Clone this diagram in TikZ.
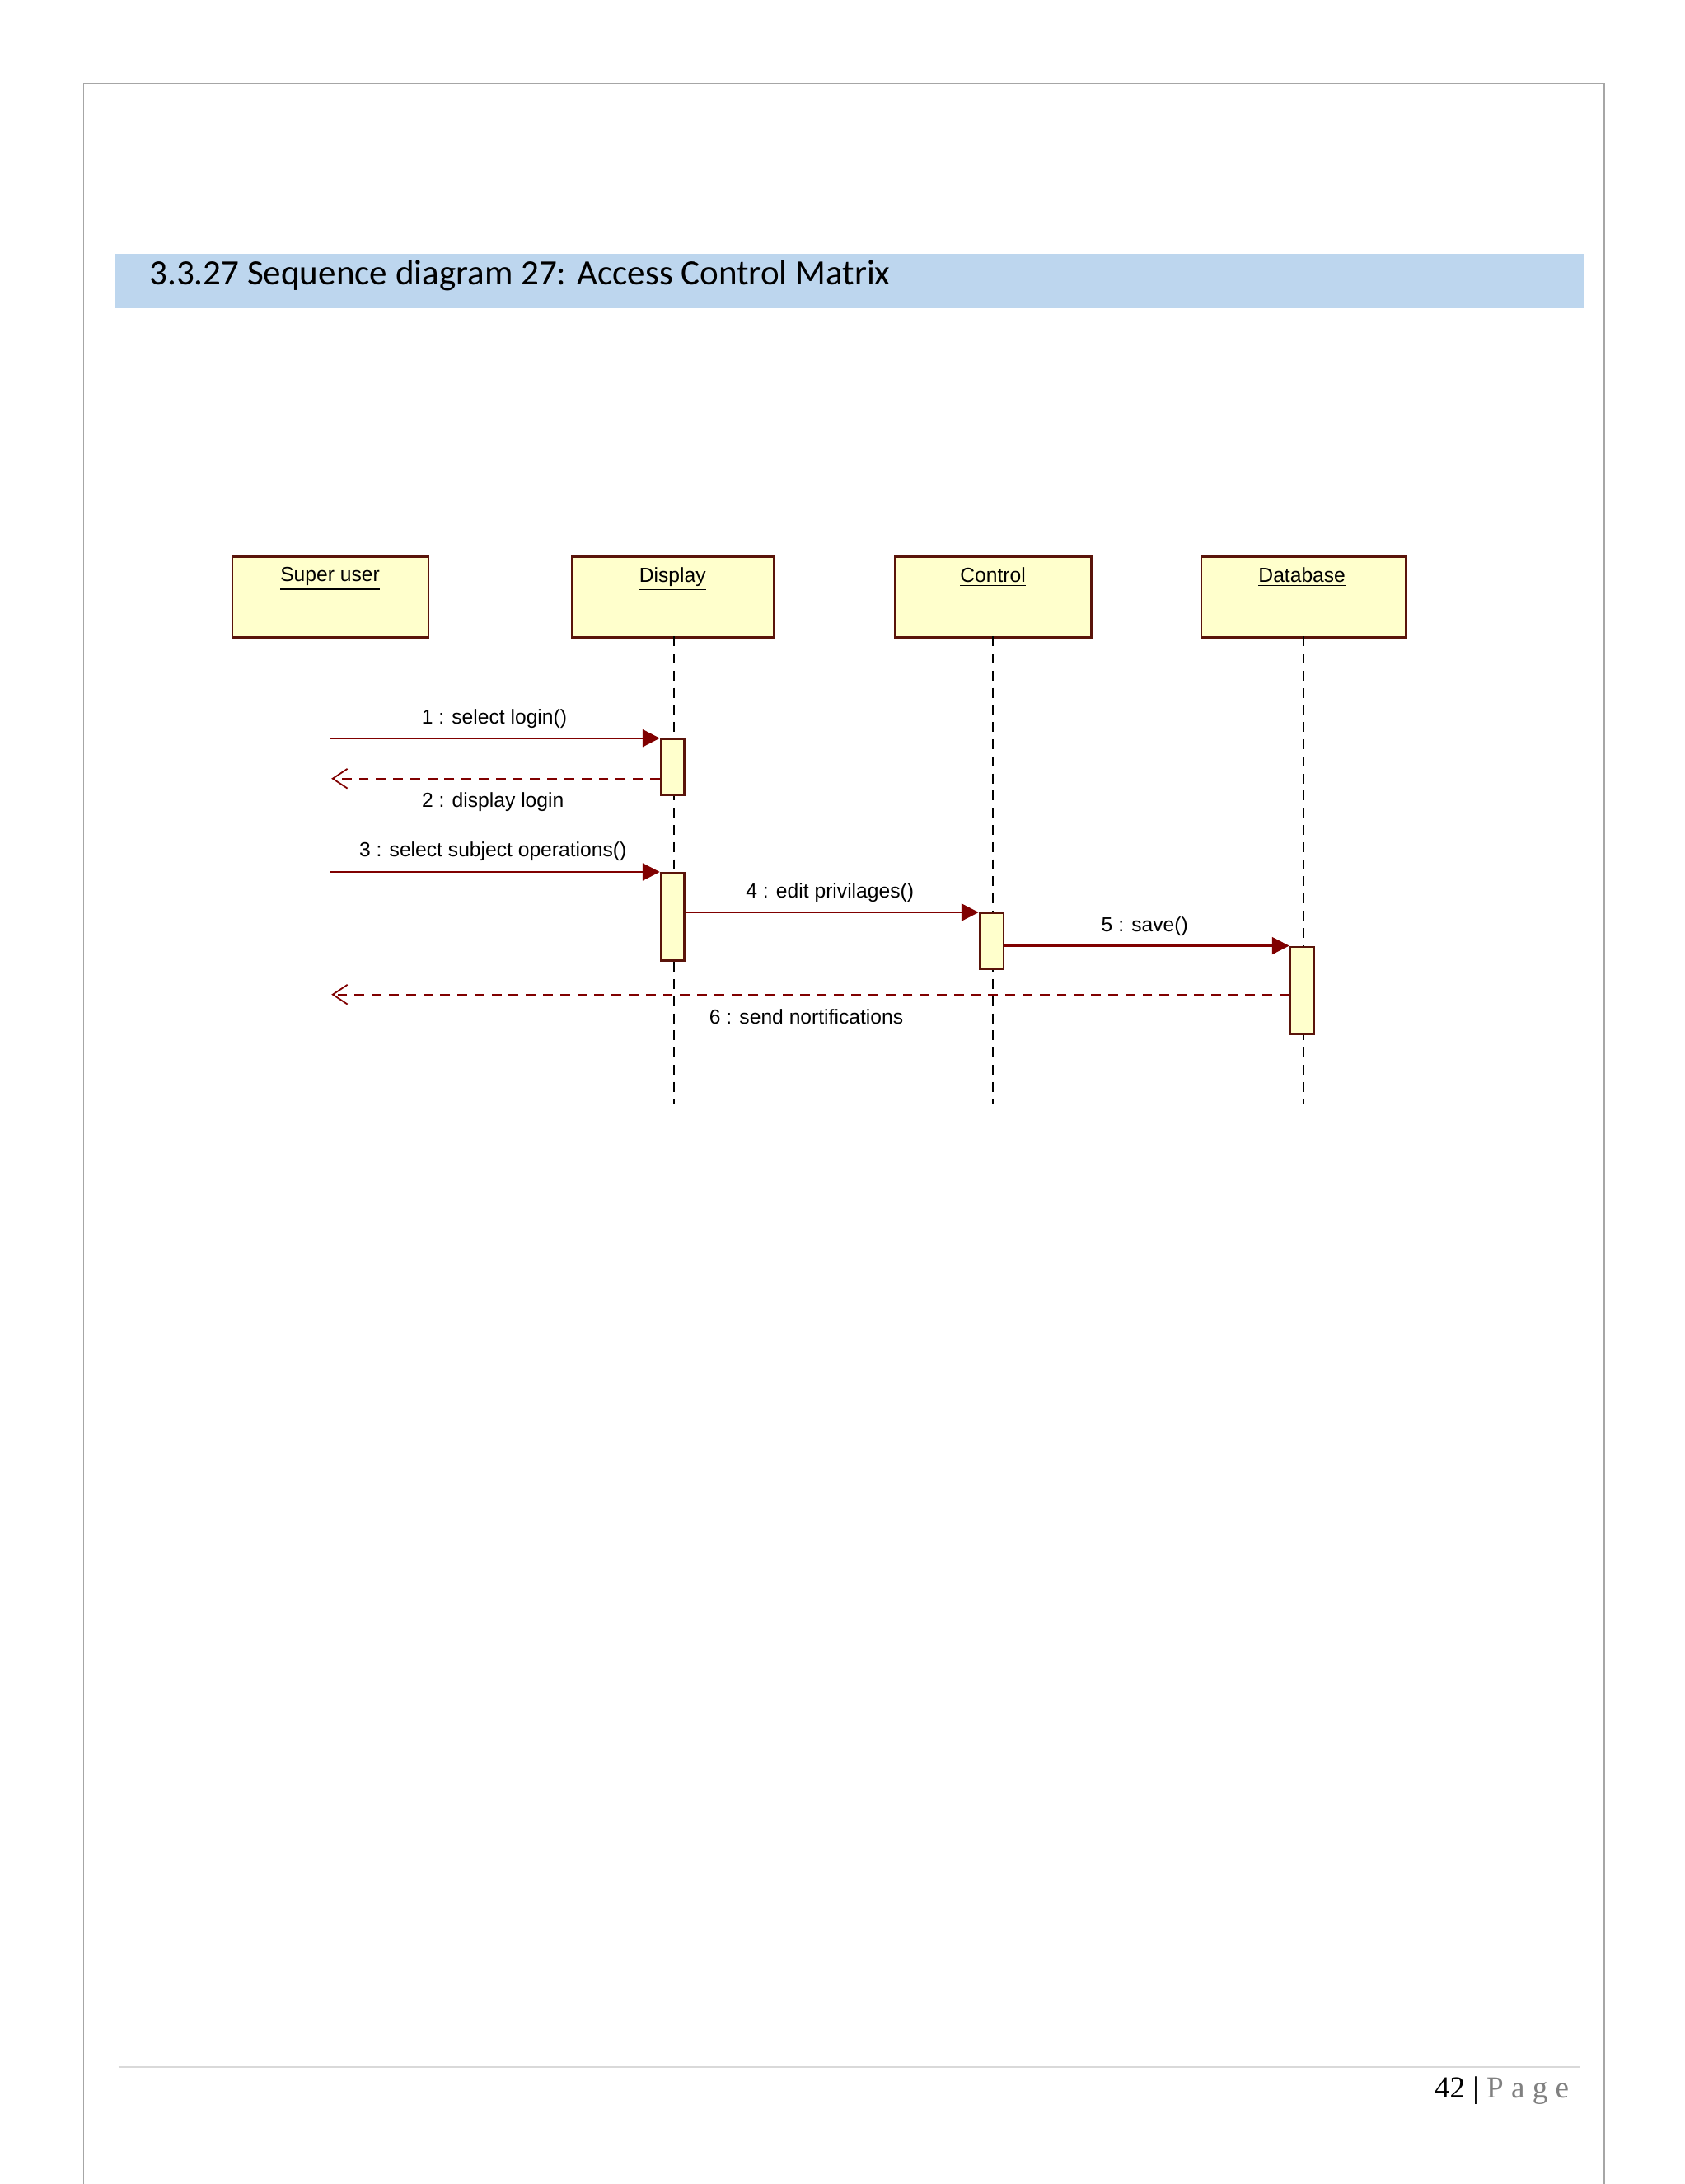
\documentclass[tikz,border=0pt]{standalone}
\usepackage{fontspec}
\setmainfont{Liberation Sans}
\newfontfamily\titlefont{Carlito}
\newfontfamily\footfont{Liberation Serif}
\usetikzlibrary{arrows.meta,positioning}
\definecolor{boxfill}{RGB}{255,255,204}
\definecolor{boxline}{RGB}{90,20,10}
\definecolor{msgline}{RGB}{128,0,0}
\definecolor{band}{RGB}{189,214,238}
\tikzset{
  obj/.style={draw=boxline, fill=boxfill, line width=0.8pt, minimum width=#1, minimum height=1.16cm, anchor=north west, inner sep=0pt},
  act/.style={draw=boxline, fill=boxfill, line width=0.8pt, minimum width=0.34cm, anchor=north, inner sep=0pt},
  lifeline/.style={dashed, line width=0.6pt, dash pattern=on 4pt off 3pt},
  call/.style={draw=msgline, line width=0.8pt, -{Triangle[length=7pt,width=7pt]}},
  reply/.style={draw=msgline, line width=0.6pt, dash pattern=on 4pt off 3pt, -{Straight Barb[open,length=6pt,width=8pt]}},
  lbl/.style={font=\fontsize{8.3}{10}\selectfont, inner sep=0pt},
  head/.style={font=\fontsize{8.3}{10}\selectfont, anchor=north, inner sep=0pt}
}
\begin{document}
\begin{tikzpicture}[x=0.02cm, y=-0.02cm]
      \useasboundingbox (0,0) rectangle (1210,1568);
      \draw[gray!70, line width=0.6pt] (60,1568) -- (60,60) -- (1152,60) -- (1152,1568); % page
      %
      \fill[band] (83,182) rectangle (1138,221);
      \node[anchor=west, inner sep=0pt, font=\titlefont\fontsize{14.5}{16}\selectfont] (title) at (107,198) {3.3.27 Sequence diagram 27: Access Control Matrix};
      %
      \node[obj=2.82cm] (su) at (166,399) {};
      \node[obj=2.9cm] (dp) at (410,399) {};
      \node[obj=2.82cm] (ct) at (642,399) {};
      \node[obj=2.94cm] (db) at (862,399) {};
      \node[head] at (237,407) {\underline{Super user}};
      \node[head] at (483,407) {\underline{Display}};
      \node[head] at (713,407) {\underline{Control}};
      \node[head] at (935,407) {\underline{Database}};
      %
      \coordinate (suE) at (237,792); % lifeline ends
      \coordinate (dpE) at (484,792);
      \coordinate (ctE) at (713,792);
      \coordinate (dbE) at (936,792);
      \draw[lifeline] (237,457) -- (suE);
      \draw[lifeline] (484,457) -- (dpE);
      \draw[lifeline] (713,457) -- (ctE);
      \draw[lifeline] (936,457) -- (dbE);
      %
      \node[act, minimum height=0.8cm] (dpA) at (483,530) {};   % activations
      \node[act, minimum height=1.26cm] (dpB) at (483,626) {};
      \node[act, minimum height=0.8cm] (ctA) at (712,655) {};
      \node[act, minimum height=1.26cm] (dbA) at (935,679) {};
      %
      \coordinate (m1) at (237,530);
      \coordinate (m2) at (238,559);
      \coordinate (m3) at (237,626);
      \coordinate (m6) at (238,714);
      \draw[call] (m1) -- (dpA.north west);
      \node[lbl] at (355,516) {1 : select login()};
      \draw[reply] (dpA.west |- m2) -- (m2);
      \node[lbl] at (354,576) {2 : display login};
      \draw[call] (m3) -- (dpB.north west);
      \node[lbl] at (354,611) {3 : select subject operations()};
      \draw[call] (dpB.east |- ctA.north) -- (ctA.north west);
      \node[lbl] at (596,641) {4 : edit privilages()};
      \draw[call] (ctA.east |- dbA.north) -- (dbA.north west);
      \node[lbl] at (822,665) {5 : save()};
      \draw[reply] (dbA.west |- m6) -- (m6);
      \node[lbl] at (579,730) {6 : send nortifications};
      %
      \draw[gray!30, line width=0.5pt] (85,1484) -- (1135,1484); % footer
      \node[anchor=east, inner sep=0pt, font=\footfont\fontsize{12.5}{14}\selectfont] (page) at (1127,1501) {42 | \textcolor{gray}{P a g e}};
\end{tikzpicture}
\end{document}
